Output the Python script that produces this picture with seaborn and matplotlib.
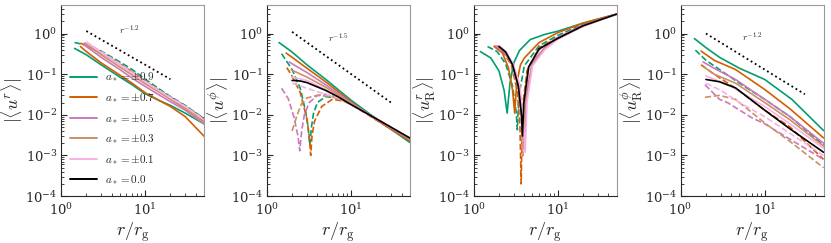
import matplotlib
matplotlib.use("Agg")
import matplotlib.pyplot as plt
import seaborn as sns

sns.set_style("ticks")
plt.rcParams["font.family"] = ["DejaVu Serif"]
plt.rcParams["mathtext.fontset"] = "cm"

SPINS = ["0.9", "0.7", "0.5", "0.3", "0.1"]
COLORS = {"0.9": "#029e73", "0.7": "#d55e00", "0.5": "#cc78bc",
          "0.3": "#ca9161", "0.1": "#fbafe4", "0.0": "black"}

# ---- panel 1: |<u^r>| ----
UR_POS = {
    "0.9": ([1.45, 2, 3, 5, 7, 10, 15, 20, 30, 50],
            [0.43, 0.3, 0.17, 0.085, 0.055, 0.033, 0.022, 0.017, 0.011, 0.006]),
    "0.7": ([1.7, 2, 3, 5, 7, 10, 15, 20, 30, 50],
            [0.48, 0.36, 0.19, 0.095, 0.06, 0.035, 0.022, 0.016, 0.009, 0.003]),
    "0.5": ([1.85, 2, 3, 5, 7, 10, 15, 20, 30, 50],
            [0.55, 0.48, 0.26, 0.13, 0.08, 0.05, 0.03, 0.021, 0.013, 0.006]),
    "0.3": ([1.95, 2, 3, 5, 7, 10, 15, 20, 30, 50],
            [0.58, 0.54, 0.3, 0.15, 0.095, 0.058, 0.035, 0.024, 0.014, 0.0065]),
    "0.1": ([2.0, 3, 5, 7, 10, 15, 20, 30, 50],
            [0.6, 0.34, 0.17, 0.105, 0.064, 0.038, 0.026, 0.016, 0.0075]),
}
UR_NEG = {
    "0.9": ([1.45, 2, 3, 5, 7, 10, 15, 20, 30, 50],
            [0.6, 0.52, 0.37, 0.2, 0.13, 0.075, 0.042, 0.028, 0.017, 0.008]),
    "0.7": ([1.7, 2, 3, 5, 7, 10, 15, 20, 30, 50],
            [0.58, 0.5, 0.34, 0.18, 0.115, 0.068, 0.038, 0.026, 0.015, 0.007]),
    "0.5": ([1.85, 2, 3, 5, 7, 10, 15, 20, 30, 50],
            [0.58, 0.52, 0.33, 0.175, 0.11, 0.066, 0.037, 0.025, 0.015, 0.0072]),
    "0.3": ([1.95, 2, 3, 5, 7, 10, 15, 20, 30, 50],
            [0.6, 0.56, 0.34, 0.18, 0.112, 0.067, 0.038, 0.026, 0.016, 0.0075]),
    "0.1": ([2.0, 3, 5, 7, 10, 15, 20, 30, 50],
            [0.62, 0.36, 0.18, 0.11, 0.066, 0.039, 0.027, 0.016, 0.0078]),
}
UR_ZERO = ([2.0, 3, 5, 7, 10, 15, 20, 30, 50],
           [0.58, 0.34, 0.175, 0.108, 0.064, 0.039, 0.027, 0.016, 0.008])

# ---- panel 2: |<u^phi>| ----
UP_POS = {
    "0.9": ([1.4, 2, 3, 5, 10, 20, 50], [0.6, 0.35, 0.17, 0.075, 0.023, 0.008, 0.0021]),
    "0.7": ([1.7, 2, 3, 5, 10, 20, 50], [0.33, 0.26, 0.14, 0.065, 0.021, 0.0075, 0.0023]),
    "0.5": ([1.85, 2, 3, 5, 10, 20, 50], [0.2, 0.18, 0.11, 0.055, 0.02, 0.0078, 0.0025]),
    "0.3": ([1.95, 2, 3, 5, 10, 20, 50], [0.13, 0.125, 0.085, 0.048, 0.019, 0.008, 0.0026]),
    "0.1": ([2.0, 3, 5, 10, 20, 50], [0.085, 0.07, 0.042, 0.018, 0.008, 0.0027]),
}
UP_NEG = {
    "0.9": ([1.5, 2, 2.5, 2.9, 3.1, 3.25, 3.4, 3.6, 4, 5, 7, 10, 20, 50],
            [0.32, 0.13, 0.045, 0.012, 0.005, 0.0018, 0.005, 0.011, 0.02, 0.028, 0.026,
             0.019, 0.008, 0.0024]),
    "0.7": ([1.73, 2, 2.5, 3.0, 3.2, 3.33, 3.45, 3.7, 4.5, 6, 8, 10, 20, 50],
            [0.145, 0.09, 0.035, 0.008, 0.003, 0.001, 0.003, 0.007, 0.016, 0.024, 0.022,
             0.018, 0.0075, 0.0023]),
    "0.5": ([1.5, 1.8, 2.1, 2.35, 2.47, 2.6, 2.8, 3.2, 4, 5, 7, 10, 20, 50],
            [0.045, 0.025, 0.009, 0.003, 0.0013, 0.004, 0.01, 0.02, 0.03, 0.032, 0.027,
             0.019, 0.008, 0.0025]),
    "0.3": ([2.0, 2.3, 2.6, 3, 4, 6, 10, 20, 50],
            [0.004, 0.01, 0.019, 0.026, 0.03, 0.028, 0.019, 0.008, 0.0026]),
    "0.1": ([2.0, 3, 5, 7, 10, 20, 50],
            [0.06, 0.045, 0.032, 0.026, 0.018, 0.008, 0.0026]),
}
UP_ZERO = ([2.0, 2.5, 3, 5, 7, 10, 20, 50],
           [0.07, 0.068, 0.062, 0.04, 0.028, 0.018, 0.008, 0.0027])

# ---- panel 3: |<u^r_R>| ----
URR_POS = {
    "0.9": ([1.2, 1.6, 2.0, 2.3, 2.5, 2.7, 3.0, 3.5, 4.7, 7, 10, 20, 50],
            [0.36, 0.25, 0.12, 0.04, 0.011, 0.06, 0.19, 0.38, 0.71, 0.95, 1.14, 1.8, 3.0]),
    "0.7": ([1.75, 2.2, 2.6, 2.9, 3.07, 3.25, 3.6, 4, 6, 10, 20, 50],
            [0.48, 0.33, 0.14, 0.04, 0.011, 0.06, 0.17, 0.25, 0.6, 1.05, 1.8, 3.0]),
    "0.5": ([1.85, 2.3, 2.9, 3.4, 3.8, 3.95, 4.2, 5, 7, 10, 20, 50],
            [0.48, 0.35, 0.17, 0.05, 0.008, 0.002, 0.03, 0.2, 0.45, 0.8, 1.6, 3.0]),
    "0.3": ([1.95, 2.3, 2.9, 3.5, 3.85, 4.0, 4.2, 5, 7, 10, 20, 50],
            [0.5, 0.38, 0.18, 0.05, 0.006, 0.0015, 0.02, 0.18, 0.42, 0.75, 1.55, 3.0]),
    "0.1": ([2.0, 2.4, 2.9, 3.5, 3.9, 4.1, 4.3, 5, 7, 10, 20, 50],
            [0.5, 0.36, 0.19, 0.06, 0.008, 0.0012, 0.02, 0.16, 0.4, 0.72, 1.5, 3.0]),
}
URR_NEG = {
    "0.9": ([1.46, 1.9, 2.4, 2.9, 3.2, 3.3, 3.45, 4, 6, 10, 20, 50],
            [0.48, 0.36, 0.18, 0.05, 0.012, 0.0043, 0.03, 0.16, 0.5, 0.9, 1.7, 3.0]),
    "0.7": ([1.75, 2.2, 2.8, 3.3, 3.55, 3.67, 3.8, 4.3, 6, 10, 20, 50],
            [0.5, 0.37, 0.17, 0.04, 0.005, 0.0002, 0.015, 0.12, 0.45, 0.8, 1.6, 3.0]),
    "0.5": ([1.85, 2.3, 2.9, 3.4, 3.7, 3.8, 3.95, 4.5, 6, 10, 20, 50],
            [0.5, 0.36, 0.16, 0.04, 0.006, 0.0012, 0.02, 0.15, 0.42, 0.78, 1.6, 3.0]),
    "0.3": ([1.95, 2.4, 2.9, 3.4, 3.75, 3.85, 4.0, 4.5, 6, 10, 20, 50],
            [0.5, 0.35, 0.17, 0.045, 0.006, 0.001, 0.02, 0.14, 0.4, 0.76, 1.55, 3.0]),
    "0.1": ([2.0, 2.4, 2.9, 3.4, 3.8, 3.95, 4.1, 4.6, 6, 10, 20, 50],
            [0.5, 0.36, 0.18, 0.05, 0.007, 0.0012, 0.02, 0.14, 0.4, 0.74, 1.5, 3.0]),
}
URR_ZERO = ([2.0, 2.4, 2.9, 3.4, 3.7, 3.8, 3.95, 4.5, 6, 10, 20, 50],
            [0.48, 0.35, 0.17, 0.05, 0.01, 0.003, 0.02, 0.15, 0.42, 0.76, 1.55, 3.0])

# ---- panel 4: |<u^phi_R>| ----
UPR_POS = {
    "0.9": ([1.46, 2.0, 2.9, 5, 10, 21, 50], [0.75, 0.45, 0.26, 0.14, 0.074, 0.024, 0.0041]),
    "0.7": ([1.75, 2.5, 4.5, 10, 20, 50], [0.37, 0.22, 0.13, 0.042, 0.014, 0.0027]),
    "0.5": ([1.85, 2.5, 4.5, 10, 20, 50], [0.2, 0.14, 0.074, 0.024, 0.009, 0.002]),
    "0.3": ([1.9, 2.5, 4.5, 10, 20, 50], [0.15, 0.1, 0.06, 0.02, 0.0075, 0.0017]),
    "0.1": ([2.0, 2.5, 4.0, 10, 20, 50], [0.09, 0.075, 0.05, 0.016, 0.006, 0.0015]),
}
UPR_NEG = {
    "0.9": ([1.5, 2.0, 2.9, 5, 10, 20, 50], [0.39, 0.22, 0.13, 0.06, 0.024, 0.009, 0.0018]),
    "0.7": ([1.75, 2.5, 4.5, 10, 20, 50], [0.17, 0.1, 0.045, 0.013, 0.005, 0.0008]),
    "0.5": ([1.95, 2.9, 3.6, 7, 10, 20, 50], [0.055, 0.024, 0.02, 0.0085, 0.006, 0.0025, 0.0008]),
    "0.3": ([1.95, 2.9, 4.5, 10, 20, 50], [0.027, 0.03, 0.024, 0.0063, 0.0022, 0.0005]),
    "0.1": ([2.0, 3.0, 5, 10, 20, 50], [0.06, 0.04, 0.02, 0.009, 0.0035, 0.001]),
}
UPR_ZERO = ([2.0, 2.9, 4.5, 10, 20, 50], [0.074, 0.065, 0.046, 0.013, 0.0045, 0.0012])

# reference power-law guides
REF_R = {1: [2, 20], 2: [2, 30], 4: [2, 30]}
REF_V = {1: [1.15, 0.075], 2: [1.1, 0.02], 4: [1.0, 0.032]}
REF_TXT = {1: (4.9, 0.8, "$r^{-1.2}$"), 2: (5.4, 0.55, "$r^{-1.5}$"),
           4: (5.3, 0.55, "$r^{-1.2}$")}

PANELS = [
    (UR_POS, UR_NEG, UR_ZERO, r"$|\langle u^r\rangle|$"),
    (UP_POS, UP_NEG, UP_ZERO, r"$|\langle u^\phi\rangle|$"),
    (URR_POS, URR_NEG, URR_ZERO, r"$|\langle u^r_{\rm R}\rangle|$"),
    (UPR_POS, UPR_NEG, UPR_ZERO, r"$|\langle u^\phi_{\rm R}\rangle|$"),
]

fig = plt.figure(figsize=(8.31, 2.43), dpi=100)
lefts = [0.0734, 0.321, 0.570, 0.819]

for i, (pos, neg, zero, ylab) in enumerate(PANELS):
    ax = fig.add_axes([lefts[i], 0.193, 0.172, 0.786])
    # in the first panel the a=0 curve sits underneath the others
    zero_z = 1 if i == 0 else 3
    sns.lineplot(x=zero[0], y=zero[1], color="black", lw=1.2, ax=ax, zorder=zero_z)
    for s in SPINS:
        r, v = neg[s]
        sns.lineplot(x=r, y=v, color=COLORS[s], linestyle="--", lw=1.2, ax=ax, zorder=2)
    for s in SPINS:
        r, v = pos[s]
        sns.lineplot(x=r, y=v, color=COLORS[s], lw=1.2, ax=ax, zorder=2)
    if i + 1 in REF_R:
        sns.lineplot(x=REF_R[i + 1], y=REF_V[i + 1], color="black", ls=":", lw=1.3, ax=ax)
        tx, ty, t = REF_TXT[i + 1]
        ax.text(tx, ty, t, fontsize=7, ha="left", va="bottom")
    ax.set_xscale("log")
    ax.set_yscale("log")
    ax.set_xlim(1, 50)
    ax.set_ylim(1e-4, 5)
    ax.set_xlabel(r"$r/r_{\rm g}$", fontsize=13, labelpad=1)
    ax.set_ylabel(ylab, fontsize=13, labelpad=0)
    ax.tick_params(which="both", direction="in", labelsize=9.5)
    ax.tick_params(axis="y", pad=2.5)
    ax.tick_params(axis="x", pad=4.5)
    ax.tick_params(which="major", length=4)
    ax.tick_params(which="minor", length=2)
    for sp in ["top", "right"]:
        ax.spines[sp].set_color("#999999")
    if i == 0:
        handles = [plt.Line2D([], [], color=COLORS[s], lw=1.4) for s in SPINS]
        handles.append(plt.Line2D([], [], color="black", lw=1.4))
        labels = [rf"$a_* = \pm{s}$" for s in SPINS] + [r"$a_* = 0.0$"]
        ax.legend(handles, labels, loc="lower left", frameon=False, fontsize=8,
                  handlelength=2.4, labelspacing=0.6, borderaxespad=0.4)

fig.savefig("out.png", dpi=100)
